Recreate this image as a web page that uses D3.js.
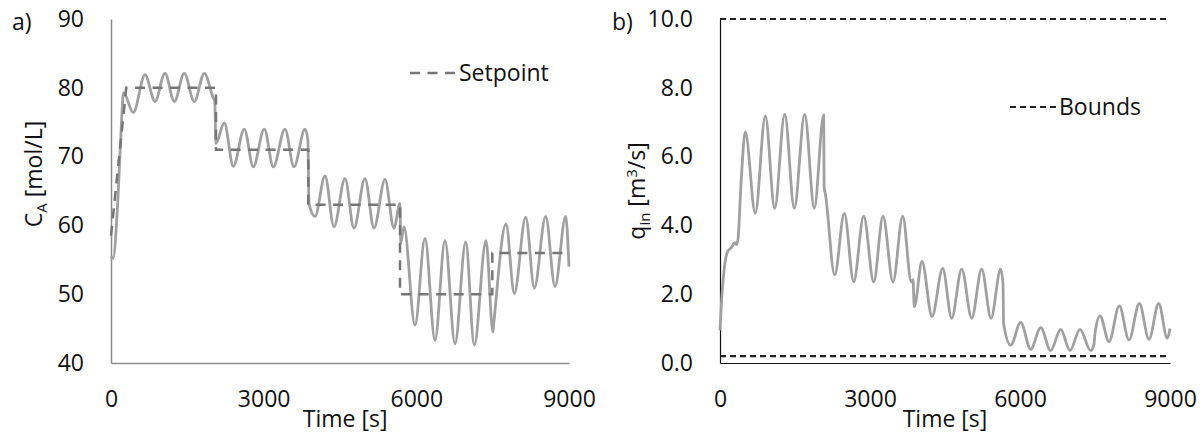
<!DOCTYPE html>
<html>
<head>
<meta charset="utf-8">
<script src="https://cdn.jsdelivr.net/npm/d3@7"></script>
<style>
  html, body { margin: 0; padding: 0; background: #fff; }
  svg { display: block; font-family: "Open Sans", sans-serif; }
</style>
</head>
<body>
<svg id="chart" width="1204" height="442"></svg>
<script>
// ---------- Data ----------
const timeTicks = [0, 3000, 6000, 9000];
const caTicks = [40, 50, 60, 70, 80, 90];
const qTicks = [0, 2, 4, 6, 8, 10];

// Panel a) concentration C_A [mol/L]
const caTime = [0, 40, 130, 200, 245, 438, 668, 865, 1061, 1244, 1440, 1637, 1833, 2010, 2040, 2060,
  2226, 2403, 2619, 2796, 3012, 3189, 3419, 3596, 3812, 3870, 3890,
  4009, 4205, 4382, 4598, 4775, 4991, 5168, 5384, 5561, 5679, 5693,
  5757, 5974, 6170, 6367, 6563, 6760, 6970, 7139, 7369, 7505, 7525,
  7762, 7925, 8149, 8318, 8542, 8725, 8935, 9000];
const caValue = [55.5, 55.2, 63, 74, 79.3, 76.4, 81.9, 78.0, 82.1, 78.0, 82.1, 78.0, 82.1, 78.5, 78.0, 71.9,
  74.9, 68.6, 74.0, 68.5, 74.0, 68.5, 74.0, 68.5, 74.0, 72.3, 63.2,
  61.3, 67.2, 59.8, 66.8, 59.6, 66.8, 59.6, 66.7, 59.6, 63.2, 57.4,
  59.8, 45.5, 58.1, 43.3, 57.8, 42.8, 57.6, 42.6, 57.8, 44.5, 46.0,
  60.2, 50.1, 61.2, 50.9, 61.3, 51.1, 61.3, 54.0];

// Panel a) setpoint
const spTime = [0, 300, 2063, 2063, 3877, 3877, 5679, 5679, 7493, 7493, 9000];
const spValue = [58.5, 80, 80, 71, 71, 63, 63, 50, 50, 56, 56];

// Panel b) inlet flow q_in [m3/s]
const qTime = [0, 40, 90, 140, 240, 290, 330, 360, 420, 506, 706, 906, 1094, 1294, 1486, 1694, 1886, 2074, 2082,
  2110, 2294, 2486, 2674, 2874, 3074, 3260, 3460, 3654, 3826, 3860, 3886,
  4040, 4240, 4454, 4634, 4834, 5034, 5234, 5420, 5614, 5660, 5672,
  5814, 6014, 6214, 6414, 6614, 6814, 7000, 7200, 7414, 7480, 7500,
  7600, 7780, 7986, 8180, 8386, 8580, 8774, 8945, 9000];
const qValue = [0.95, 2.0, 2.8, 3.2, 3.38, 3.5, 3.44, 3.6, 5.2, 6.72, 4.35, 7.18, 4.5, 7.23, 4.5, 7.23, 4.5, 7.21, 5.13,
  4.9, 2.56, 4.35, 2.36, 4.27, 2.36, 4.27, 2.36, 4.27, 2.36, 2.42, 1.64,
  2.95, 1.35, 2.75, 1.30, 2.73, 1.30, 2.73, 1.30, 2.73, 2.3, 1.15,
  0.52, 1.18, 0.40, 1.03, 0.36, 0.98, 0.36, 0.98, 0.36, 0.55, 0.86,
  1.37, 0.62, 1.66, 0.67, 1.73, 0.69, 1.73, 0.72, 1.0];

// Panel b) bounds
const boundTime = [0, 9000];
const upperBound = [10, 10];
const lowerBound = [0.2, 0.2];

// ---------- Drawing ----------
const svg = d3.select("#chart");
const FONT = 23;

function panel(opts) {
  const g = svg.append("g");
  const x = d3.scaleLinear().domain([0, 9000]).range([opts.x0, opts.x1]);
  const y = d3.scaleLinear().domain(opts.yDomain).range([363, 19]);

  const ax = g.append("g").attr("transform", "translate(0,363)")
    .call(d3.axisBottom(x).tickValues(timeTicks).tickSize(0).tickPadding(28).tickFormat(d3.format("d")));
  const ay = g.append("g").attr("transform", `translate(${opts.x0},0)`)
    .call(d3.axisLeft(y).tickValues(opts.yTicks).tickSize(0).tickPadding(27).tickFormat(opts.fmt));
  [ax, ay].forEach(a => {
    a.select(".domain").attr("stroke", opts.axisColor).attr("stroke-width", opts.axisWidth);
    a.selectAll("text").attr("font-size", FONT).attr("fill", "#111").attr("font-family", "'Open Sans', sans-serif");
  });

  return { g, x, y };
}

// ---- Panel a ----
const A = panel({ x0: 111, x1: 569, yDomain: [40, 90], yTicks: caTicks, fmt: d3.format("d"),
  axisColor: "#8a8a8a", axisWidth: 1.5 });

const lineA = d3.line().x(d => A.x(d[0])).y(d => A.y(d[1])).curve(d3.curveMonotoneX);
A.g.append("path").datum(d3.zip(caTime, caValue))
  .attr("d", lineA).attr("fill", "none").attr("stroke", "#a0a0a0").attr("stroke-width", 2.8)
  .attr("stroke-linejoin", "round");
const lineSp = d3.line().x(d => A.x(d[0])).y(d => A.y(d[1]));
A.g.append("path").datum(d3.zip(spTime, spValue))
  .attr("d", lineSp).attr("fill", "none").attr("stroke", "#767676").attr("stroke-width", 2.5)
  .attr("stroke-dasharray", "10,7.5");

// legend a
A.g.append("line").attr("x1", 410).attr("x2", 455).attr("y1", 73).attr("y2", 73)
  .attr("stroke", "#767676").attr("stroke-width", 2.5).attr("stroke-dasharray", "10,7.5");
A.g.append("text").attr("x", 459).attr("y", 81).attr("font-size", FONT).attr("fill", "#111").text("Setpoint");

// labels a
svg.append("text").attr("x", 12).attr("y", 30).attr("font-size", FONT).attr("fill", "#111").text("a)");
A.g.append("text").attr("x", A.x(4600)).attr("y", 427).attr("text-anchor", "middle")
  .attr("font-size", FONT).attr("fill", "#111").text("Time [s]");
const ta = A.g.append("text").attr("transform", "translate(42,174) rotate(-90)")
  .attr("text-anchor", "middle").attr("font-size", FONT).attr("fill", "#111");
ta.append("tspan").text("C");
ta.append("tspan").attr("font-size", 15).attr("dy", 5).text("A");
ta.append("tspan").attr("dy", -5).text(" [mol/L]");

// ---- Panel b ----
const B = panel({ x0: 720, x1: 1170, yDomain: [0, 10], yTicks: qTicks, fmt: d3.format(".1f"),
  axisColor: "#111", axisWidth: 1.2 });

const lineB = d3.line().x(d => B.x(d[0])).y(d => B.y(d[1])).curve(d3.curveMonotoneX);
B.g.append("path").datum(d3.zip(qTime, qValue))
  .attr("d", lineB).attr("fill", "none").attr("stroke", "#a0a0a0").attr("stroke-width", 2.8)
  .attr("stroke-linejoin", "round");
const lineBound = d3.line().x(d => B.x(d[0])).y(d => B.y(d[1]));
[upperBound, lowerBound].forEach(b => {
  B.g.append("path").datum(d3.zip(boundTime, b))
    .attr("d", lineBound).attr("fill", "none").attr("stroke", "#222").attr("stroke-width", 2.2)
    .attr("stroke-dasharray", "6,4");
});

// legend b
B.g.append("line").attr("x1", 1010).attr("x2", 1056).attr("y1", 107).attr("y2", 107)
  .attr("stroke", "#222").attr("stroke-width", 2).attr("stroke-dasharray", "6,4");
B.g.append("text").attr("x", 1059).attr("y", 115).attr("font-size", FONT).attr("fill", "#111").text("Bounds");

// labels b
svg.append("text").attr("x", 612).attr("y", 30).attr("font-size", FONT).attr("fill", "#111").text("b)");
B.g.append("text").attr("x", B.x(4500)).attr("y", 427).attr("text-anchor", "middle")
  .attr("font-size", FONT).attr("fill", "#111").text("Time [s]");
const tb = B.g.append("text").attr("transform", "translate(645,191) rotate(-90)")
  .attr("text-anchor", "middle").attr("font-size", FONT).attr("fill", "#111");
tb.append("tspan").text("q");
tb.append("tspan").attr("font-size", 15).attr("dy", 5).text("in");
tb.append("tspan").attr("dy", -5).text(" [m");
tb.append("tspan").attr("font-size", 15).attr("dy", -8).text("3");
tb.append("tspan").attr("dy", 8).text("/s]");
</script>
</body>
</html>
